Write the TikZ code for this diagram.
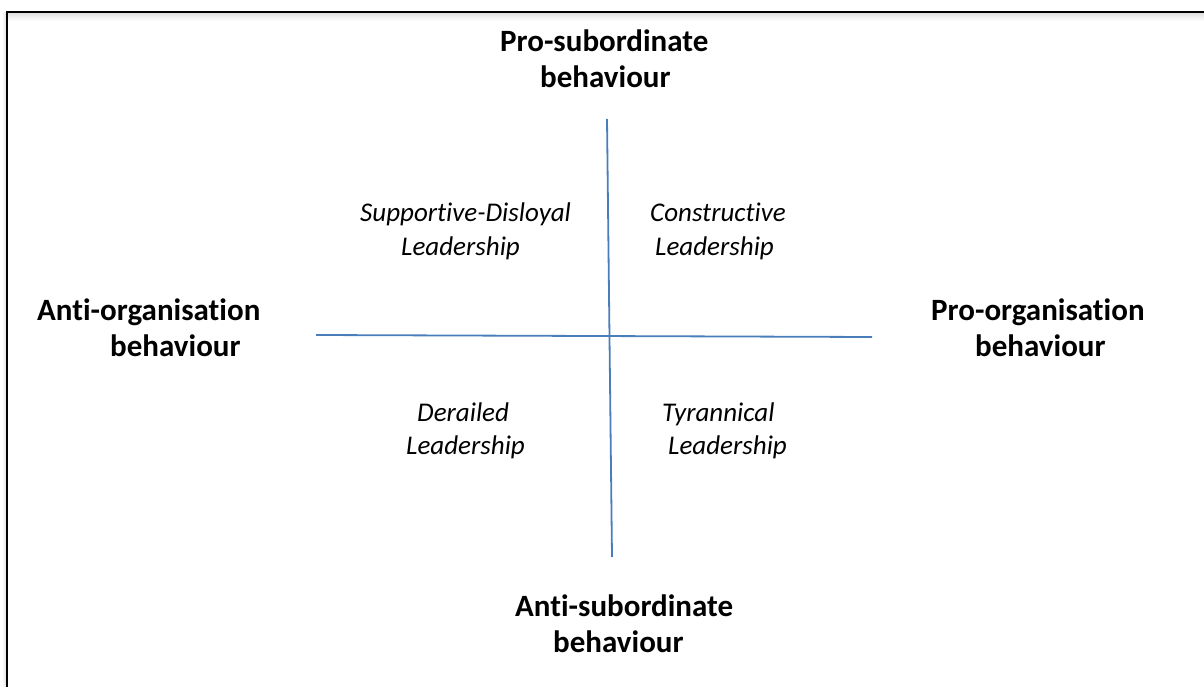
\documentclass[tikz,border=0pt]{standalone}
\usepackage{fontspec}
\setmainfont{Carlito}[Ligatures={NoCommon}]
\tikzset{
  x=1pt, y=-1pt,
  axisline/.style={draw=axisblue, line width=1.8pt},
  boldlbl/.style={font=\fontsize{31}{36}\selectfont\bfseries, inner sep=0pt, anchor=base west, text=black},
  itallbl/.style={font=\fontsize{27}{33}\selectfont\itshape, inner sep=0pt, anchor=base west, text=black},
}
\definecolor{axisblue}{RGB}{74,126,187}
\begin{document}
\begin{tikzpicture}
\useasboundingbox (0,0) rectangle (1204,687);
% frame with soft shadow
\shade[top color=black!12, bottom color=white] (8,13) rectangle (1204,21);
\shade[left color=white, right color=black!12] (2,13) rectangle (6,687);
\draw[line width=2.6pt, line cap=rect] (7,687) -- (7,12) -- (1204,12);
% axes
\coordinate (vt) at (607,119);
\coordinate (vb) at (612,557);
\coordinate (hl) at (316,335);
\coordinate (hr) at (872,337);
\draw[axisline] (vt) -- (vb);
\draw[axisline] (hl) -- (hr);
% axis labels
\node[boldlbl] (ps1) at (500,52) {Pro-subordinate};
\node[boldlbl] (ps2) at (540,88) {behaviour};
\node[boldlbl] (as1) at (515,616) {Anti-subordinate};
\node[boldlbl] (as2) at (553,652) {behaviour};
\node[boldlbl] (ao1) at (37,320) {Anti-organisation};
\node[boldlbl] (ao2) at (110,356) {behaviour};
\node[boldlbl] (po1) at (931,320) {Pro-organisation};
\node[boldlbl] (po2) at (975,356) {behaviour};
% quadrant labels
\node[itallbl] (sd1) at (360,222) {Supportive-Disloyal};
\node[itallbl] (sd2) at (401,255) {Leadership};
\node[itallbl] (co1) at (650,222) {Constructive};
\node[itallbl] (co2) at (655,255) {Leadership};
\node[itallbl] (de1) at (417,421) {Derailed};
\node[itallbl] (de2) at (406,454) {Leadership};
\node[itallbl] (ty1) at (662,421) {Tyrannical};
\node[itallbl] (ty2) at (668,454) {Leadership};
\end{tikzpicture}
\end{document}
